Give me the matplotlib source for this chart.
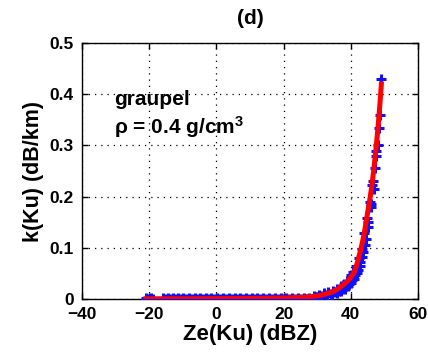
import matplotlib
matplotlib.use("Agg")
import matplotlib.pyplot as plt

plt.rcParams['font.family'] = ['Liberation Sans', 'DejaVu Sans']
plt.rcParams['mathtext.fontset'] = 'custom'
plt.rcParams['mathtext.rm'] = 'Liberation Sans:bold'
plt.rcParams['mathtext.default'] = 'rm'

# Fitted curve (red line)
fit_ze = [-21, -10, 0, 10, 20, 25, 28, 30.5, 32.7, 34.5, 36.2, 38.0, 39.5, 41.0,
          42.0, 43.1, 44.0, 44.8, 45.8, 46.4, 47.0, 47.6, 48.1, 48.6, 49.1]
fit_k = [0.0005, 0.0006, 0.0008, 0.0012, 0.0020, 0.0032, 0.0045, 0.0065, 0.010,
         0.014, 0.020, 0.029, 0.038, 0.052, 0.072, 0.100, 0.128, 0.160, 0.200,
         0.228, 0.262, 0.300, 0.335, 0.375, 0.420]

# Scatter data (blue plus markers)
pts_ze = [-21.0, -20.2, -19.5, -18.8, -16.0, -15.3, -14.5, -13.8, -13.0, -12.2, -11.5,
          -10.6, -9.8, -9.0, -8.1, -7.3, -6.5, -5.6, -4.8, -4.0, -3.1, -2.3, -1.5,
          -0.6, 0.2, 1.1, 2.0, 2.8, 3.7, 4.5, 5.4, 6.2, 7.1, 8.0, 8.8, 9.7, 10.5,
          11.4, 12.2, 13.1, 14.0, 14.8, 15.7, 16.5, 17.4, 18.2, 19.1, 20.0, 20.8,
          21.7, 22.5, 23.4, 24.2, 25.1, 26.0, 26.8, 27.7, 28.5,
          29.0, 29.8, 30.5, 31.2, 32.0, 32.6, 33.3, 34.0, 34.6, 35.2, 35.8, 36.4,
          37.0, 37.5, 38.0, 38.5, 39.0, 39.5, 40.0, 40.4, 40.8, 41.2, 41.6, 42.0,
          42.4, 42.8, 43.2, 43.6, 44.0, 44.4, 44.8, 45.2, 45.6, 46.0, 46.4, 46.8,
          47.2, 47.6, 48.0, 48.4, 48.8, 49.1,
          30.0, 31.5, 33.0, 34.5, 36.0, 37.2, 38.3, 39.3, 40.2, 41.0, 41.8, 42.6,
          43.4, 44.2, 45.0, 45.9, 46.7, 47.4]
pts_k = [0.002, 0.001, 0.002, 0.001, 0.002, 0.001, 0.002, 0.001, 0.002, 0.001, 0.002,
         0.001, 0.002, 0.001, 0.002, 0.001, 0.002, 0.001, 0.002, 0.001, 0.002, 0.001,
         0.002, 0.001, 0.002, 0.001, 0.002, 0.001, 0.002, 0.001, 0.002, 0.001, 0.002,
         0.001, 0.002, 0.001, 0.002, 0.001, 0.002, 0.001, 0.002, 0.001, 0.002, 0.001,
         0.002, 0.001, 0.002, 0.001, 0.002, 0.001, 0.002, 0.001, 0.002, 0.001, 0.002,
         0.001, 0.002, 0.001,
         0.005, 0.004, 0.008, 0.005, 0.011, 0.008, 0.014, 0.010, 0.016, 0.013, 0.020,
         0.016, 0.025, 0.020, 0.030, 0.025, 0.036, 0.030, 0.046, 0.038, 0.052, 0.046,
         0.064, 0.056, 0.080, 0.072, 0.098, 0.092, 0.128, 0.118, 0.158, 0.150, 0.190,
         0.185, 0.222, 0.215, 0.256, 0.290, 0.300, 0.335, 0.360, 0.430,
         0.003, 0.004, 0.006, 0.008, 0.012, 0.015, 0.020, 0.025, 0.032, 0.040, 0.050,
         0.064, 0.082, 0.105, 0.140, 0.180, 0.230, 0.280]

xticks = [-40, -20, 0, 20, 40, 60]
yticks = [0, 0.1, 0.2, 0.3, 0.4, 0.5]
yticklabels = ['0', '0.1', '0.2', '0.3', '0.4', '0.5']

fig = plt.figure(figsize=(4.28, 3.62), dpi=100)
ax = fig.add_axes([0.1916, 0.174, 0.7850, 0.707])

ax.plot(pts_ze, pts_k, '+', color='#1010ff', markersize=7, markeredgewidth=2.2,
        zorder=3)
ax.plot(fit_ze, fit_k, '-', color='#ff0000', linewidth=3.6, zorder=4)

ax.set_xlim(-40, 60)
ax.set_ylim(0, 0.5)
ax.set_xticks(xticks)
ax.set_yticks(yticks)
ax.set_yticklabels(yticklabels)
ax.grid(True, color='black', linestyle=(0, (1, 4)), linewidth=0.9)
ax.tick_params(direction='in', top=True, right=True, length=4, width=1,
               labelsize=12.5, pad=6)
for lab in ax.get_xticklabels() + ax.get_yticklabels():
    lab.set_fontweight('bold')
for s in ax.spines.values():
    s.set_linewidth(1.0)

ax.set_xlabel('Ze(Ku) (dBZ)', fontsize=16, fontweight='bold', labelpad=1)
ax.set_ylabel('k(Ku) (dB/km)', fontsize=15.5, fontweight='bold', labelpad=4)
ax.set_title('(d)', fontsize=15, fontweight='bold', pad=14)

ax.text(-30.5, 0.39, 'graupel', fontsize=15, fontweight='bold', va='center', ha='left')
ax.text(-30.5, 0.335, r'ρ = 0.4 g/cm$^3$', fontsize=15, fontweight='bold',
        va='center', ha='left')

fig.savefig('out.png', dpi=100, facecolor='white')
